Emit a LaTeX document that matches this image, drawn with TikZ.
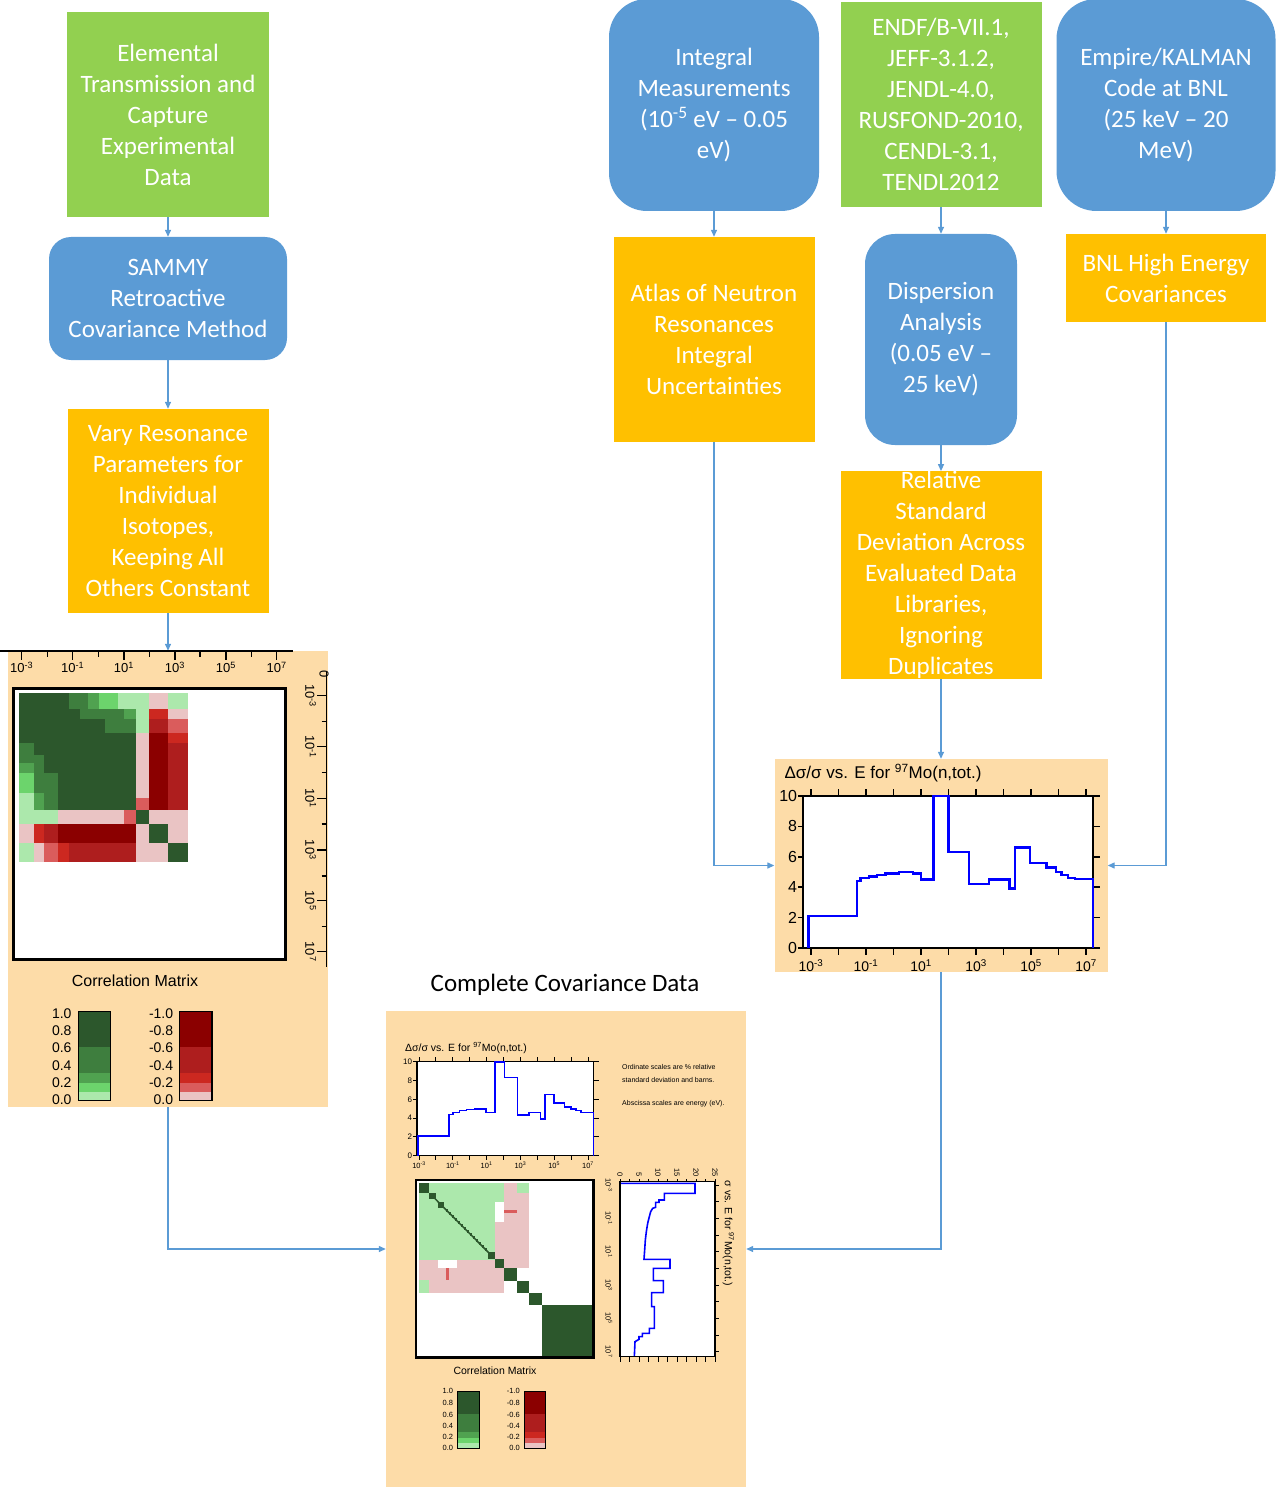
\documentclass[tikz,border=0pt]{standalone}
\usepackage{fontspec}
\setmainfont{Carlito}
\newfontfamily\plotfont{Liberation Sans}
\usetikzlibrary{arrows.meta,positioning,calc}
\definecolor{boxgreen}{RGB}{146,208,80}
\definecolor{boxblue}{RGB}{91,155,213}
\definecolor{boxorange}{RGB}{255,192,0}
\definecolor{peach}{RGB}{253,220,168}
\definecolor{gA}{RGB}{44,87,44}
\definecolor{gB}{RGB}{62,126,62}
\definecolor{gC}{RGB}{80,162,80}
\definecolor{gD}{RGB}{108,212,108}
\definecolor{gE}{RGB}{172,232,172}
\definecolor{rA}{RGB}{139,0,0}
\definecolor{rB}{RGB}{174,30,30}
\definecolor{rC}{RGB}{204,40,32}
\definecolor{rD}{RGB}{218,92,92}
\definecolor{rE}{RGB}{234,196,196}
\definecolor{traceblue}{RGB}{0,0,255}
\newcommand{\pf}[1]{\plotfont\fontsize{#1}{#1}\selectfont}
\tikzset{
  gbox/.style={rectangle,fill=boxgreen,text=white,align=center,inner sep=0pt,font=\fontsize{25}{31}\selectfont},
  obox/.style={gbox,fill=boxorange},
  bbox/.style={gbox,fill=boxblue,rounded corners=#1},
  bbox/.default=30pt,
  panel/.style={rectangle,fill=peach,inner sep=0pt},
  link/.style={draw=boxblue,line width=1.3pt,-{Triangle[length=7pt,width=6pt]}},
  axline/.style={draw=black,line width=1.5pt},
  plotframe/.style={draw=black,line width=2.5pt},
  traceline/.style={draw=traceblue,line width=2.5pt},
  lbl/.style={inner sep=0pt,font=\pf{#1}},
  lbl/.default=13
}

\begin{document}
\begin{tikzpicture}[x=1pt,y=-1pt]
\useasboundingbox (0,0) rectangle (1275,1487);

% flow boxes
\node[gbox,minimum width=202pt,minimum height=205pt] (elem) at (168,114.5) {Elemental\\Transmission and\\Capture\\Experimental\\Data};
\node[bbox=22pt,minimum width=238pt,minimum height=123pt] (sammy) at (168,298.5) {SAMMY\\Retroactive\\Covariance Method};
\node[obox,minimum width=201pt,minimum height=204pt] (vary) at (168,511) {Vary Resonance\\Parameters for\\Individual\\Isotopes,\\Keeping All\\Others Constant};

\node[bbox=38pt,minimum width=210pt,minimum height=212pt] (integ) at (714,105) {Integral\\Measurements\\(10\textsuperscript{-5} eV -- 0.05\\eV)};
\node[obox,minimum width=201pt,minimum height=205pt] (atlas) at (714,339.5) {Atlas of Neutron\\Resonances\\Integral\\Uncertainties};

\node[gbox,minimum width=201pt,minimum height=205pt] (endf) at (941,104.5) {ENDF/B-VII.1,\\JEFF-3.1.2,\\JENDL-4.0,\\RUSFOND-2010,\\CENDL-3.1,\\TENDL2012};
\node[bbox=30pt,minimum width=152pt,minimum height=211pt] (disp) at (941,339.5) {Dispersion\\Analysis\\(0.05 eV --\\25 keV)};
\node[obox,minimum width=201pt,minimum height=204pt] (reldev) at (941,575) {Relative\\Standard\\Deviation Across\\Evaluated Data\\Libraries,\\Ignoring\\Duplicates};

\node[bbox=40pt,minimum width=219pt,minimum height=212pt] (empire) at (1166,105) {Empire/KALMAN\\Code at BNL\\(25 keV -- 20\\MeV)};
\node[obox,minimum width=200pt,minimum height=88pt] (bnl) at (1166,278) {BNL High Energy\\Covariances};

% result panels
\node[panel,minimum width=320pt,minimum height=456pt] (corrpanel) at (168,879) {};
\node[panel,minimum width=333pt,minimum height=213pt] (errpanel) at (941,865.5) {};
\node[panel,minimum width=360pt,minimum height=476pt] (fullpanel) at (566,1249) {};
\node[font=\fontsize{25}{29}\selectfont] (fulltitle) at (565,985) {Complete Covariance Data};

% connectors
\draw[link] (elem) -- (sammy);
\draw[link] (sammy) -- (vary);
\draw[link] (vary) -- (corrpanel);
\draw[link] (integ) -- (atlas);
\draw[link] (endf) -- (disp);
\draw[link] (disp) -- (reldev);
\draw[link] (reldev) -- (errpanel);
\draw[link] (empire) -- (bnl);
\draw[link] (atlas) |- (errpanel.west);
\draw[link] (bnl) |- (errpanel.east);
\draw[link] (corrpanel) |- (fullpanel.west);
\draw[link] (errpanel) |- (fullpanel.east);

% correlation matrix (left panel)
\begin{scope}[shift={(0,650)},scale=1/3]
\fill[white] (40,115) rectangle (857,928);
\foreach \xa/\ya/\xb/\yb/\c in {
  58/130/208/178/gA, 208/130/265/178/gB, 265/130/297/178/gC, 297/130/355/178/gD, 355/130/448/178/gE, 448/130/505/178/rE, 505/130/563/178/gE,
  58/178/240/208/gA, 240/178/372/208/gB, 372/178/408/208/gC, 408/178/448/208/gE, 448/178/505/208/rC, 505/178/563/208/rE,
  58/208/315/250/gA, 315/208/408/250/gB, 408/208/448/250/gE, 448/208/505/250/rB, 505/208/563/250/rD,
  58/250/408/280/gA, 408/250/448/280/rE, 448/250/505/280/rA, 505/250/563/280/rC,
  175/280/408/480/gA, 58/280/102/340/gB, 58/340/102/368/gC, 58/368/102/430/gD, 58/430/102/480/gE,
  102/280/133/315/gA, 102/315/133/430/gB, 102/430/133/480/gC, 133/280/175/368/gA, 133/368/175/480/gB,
  408/280/448/445/rE, 408/445/448/480/rD, 448/280/505/480/rA, 505/280/563/480/rB,
  58/480/175/522/gE, 175/480/372/522/rE, 372/480/408/522/rD, 408/480/448/522/gA, 448/480/563/522/rE,
  58/522/102/578/rE, 102/522/133/578/rC, 133/522/175/578/rB, 175/522/408/578/rA, 408/522/448/578/rE, 448/522/505/578/gA, 505/522/563/578/rE,
  58/578/102/635/gE, 102/578/133/635/rE, 133/578/175/635/rD, 175/578/208/635/rC, 208/578/408/635/rB, 408/578/505/635/rE, 505/578/563/635/gA}
  \fill[\c] (\xa,\ya) rectangle (\xb,\yb);
\draw[line width=3pt] (40,115) rectangle (857,928);
% axes
\draw[axline] (0,3) -- (880,3);
\foreach \t in {65,218,372,525,678,830} \draw[axline] (\t,3) -- (\t,30);
\foreach \t in {142,295,448,600,755} \draw[axline] (\t,3) -- (\t,20);
\foreach \t/\e in {65/-3,218/-1,372/1,525/3,678/5,830/7}
  \node[lbl=13] (ct\e) at (\t,52) {10\textsuperscript{\e}};
\draw[axline] (980,65) -- (980,950);
\foreach \t in {137,290,445,600,752,905} \draw[axline] (952,\t) -- (980,\t);
\foreach \t in {215,368,522,678,830} \draw[axline] (965,\t) -- (980,\t);
\foreach \t/\e in {137/-3,290/-1,445/1,600/3,752/5,905/7}
  \node[lbl=13,rotate=-90] (cr\e) at (932,\t) {10\textsuperscript{\e}};
\node[lbl=13,rotate=-90] (crzero) at (972,72) {0};
\node[lbl=16] (corrname) at (405,993) {Correlation Matrix};
% colour legend
\foreach \ya/\yb/\c/\d in {1085/1192/gA/rA, 1192/1270/gB/rB, 1270/1298/gC/rC, 1298/1325/gD/rD, 1325/1352/gE/rE}
  {\fill[\c] (235,\ya) rectangle (332,\yb); \fill[\d] (538,\ya) rectangle (636,\yb);}
\draw[line width=1.2pt] (235,1085) rectangle (332,1352);
\draw[line width=1.2pt] (538,1085) rectangle (636,1352);
\foreach \y/\p/\n [count=\k] in {1090/1.0/-1.0, 1142/0.8/-0.8, 1194/0.6/-0.6, 1246/0.4/-0.4, 1298/0.2/-0.2, 1350/0.0/0.0}
  {\node[lbl=14,anchor=east] (cgl\k) at (215,\y) {\p}; \node[lbl=14,anchor=east] (crl\k) at (520,\y) {\n};}
\end{scope}

% relative standard deviation plot (right panel)
\node[lbl=17] (errtitle) at (883,773) {Δσ/σ vs. E for \textsuperscript{97}Mo(n,tot.)};
\begin{scope}[shift={(893.5,948)},x=27.5pt,y=15.2pt]
\fill[white] (-3.29,0) rectangle (7.25,10);
\draw[plotframe] (-3.29,0) rectangle (7.25,10);
\foreach \e in {-3,...,7} {\draw[axline] (\e,10) -- ++(0,0.45); \draw[axline] (\e,0) -- ++(0,-0.45);}
\foreach \v in {0,2,...,10} {
  \draw[axline] (-3.29,\v) -- ++(-0.2,0);
  \draw[axline] (7.25,\v) -- ++(0.25,0);
  \node[lbl=16,anchor=east] (ey\v) at (-3.5,\v) {\v};}
\foreach \e in {-3,-1,...,7} \node[lbl=14] (ex\e) at (\e,-1.15) {10\textsuperscript{\e}};
\draw[traceline] plot[const plot] coordinates {(-3.1,0) (-3.1,2.1) (-1.33,4.4) (-1.2,4.6) (-0.9,4.7) (-0.6,4.8) (-0.3,4.9) (0.2,5.0) (0.7,4.9) (1.0,4.5) (1.45,10) (2.0,6.3) (2.75,4.2) (3.48,4.5) (4.22,3.9) (4.42,6.6) (4.97,5.6) (5.57,5.3) (5.9,5.0) (6.1,4.8) (6.35,4.6) (6.6,4.55) (7.25,0)};
\end{scope}

% complete covariance data (bottom panel)
\node[lbl=10.5] (minititle) at (466,1048) {Δσ/σ vs. E for \textsuperscript{97}Mo(n,tot.)};
\begin{scope}[shift={(469.7,1155.7)},x=16.9pt,y=9.4pt]
\fill[white] (-3.12,0) rectangle (7.33,10);
\draw[line width=1.5pt] (-3.12,0) rectangle (7.33,10);
\foreach \e in {-3,...,7} {\draw[line width=1pt] (\e,10) -- ++(0,0.5); \draw[line width=1pt] (\e,0) -- ++(0,-0.5);}
\foreach \v in {0,2,...,10} {
  \draw[line width=1pt] (-3.12,\v) -- ++(-0.25,0);
  \draw[line width=1pt] (7.33,\v) -- ++(0.3,0);
  \node[lbl=8,anchor=east] (my\v) at (-3.4,\v) {\v};}
\foreach \e in {-3,-1,...,7} \node[lbl=7.5] (mx\e) at (\e,-1.0) {10\textsuperscript{\e}};
\draw[traceblue,line width=1.6pt] plot[const plot] coordinates {(-3.05,0) (-3.05,2.1) (-1.22,4.4) (-1.0,4.6) (-0.6,4.8) (-0.2,4.9) (0.3,5.0) (0.95,4.6) (1.5,10) (2.05,8.3) (2.82,4.3) (3.5,4.6) (4.2,3.9) (4.47,6.5) (5.0,5.6) (5.6,5.2) (6.0,5.0) (6.3,4.8) (6.6,4.6) (7.0,4.6) (7.33,0)};
\end{scope}
\node[lbl=7,anchor=west] (note1) at (622,1067) {Ordinate scales are \% relative};
\node[lbl=7,anchor=west] (note2) at (622,1080) {standard deviation and barns.};
\node[lbl=7,anchor=west] (note3) at (622,1104) {Abscissa scales are energy (eV).};

\begin{scope}[shift={(385,1170)},scale=1/3]
\fill[white] (93,30) rectangle (625,562);
\foreach \xa/\ya/\xb/\yb/\c in {
  103/40/358/95/gE, 103/95/330/270/gE, 358/40/395/95/rE, 395/40/432/70/gE, 395/70/432/95/rE,
  330/95/432/295/rE, 103/270/358/368/rE, 103/330/133/368/gE, 330/95/358/155/white, 158/270/217/295/white,
  358/120/396/128/rD, 183/295/191/330/rD,
  103/40/133/70/gA, 133/70/153/88/gA, 158/95/178/113/gA, 308/245/330/268/gA, 330/268/358/295/gA,
  358/295/395/332/gA, 395/332/432/368/gA, 432/368/470/405/gA, 470/405/625/562/gA}
  \fill[\c] (\xa,\ya) rectangle (\xb,\yb);
\draw[gA,line width=1.5pt] (150,86) -- (310,247);
\foreach \i in {0,...,13} \fill[gA] ({183+9*\i},{118+9*\i}) rectangle ++(7,7);
\draw[line width=2.5pt] (93,30) rectangle (625,562);
\node[lbl=10.5] (mininame) at (330,603) {Correlation Matrix};
\foreach \ya/\yb/\c/\d in {663/733/gA/rA, 733/785/gB/rB, 785/803/gC/rC, 803/820/gD/rD, 820/835/gE/rE}
  {\fill[\c] (218,\ya) rectangle (283,\yb); \fill[\d] (418,\ya) rectangle (482,\yb);}
\draw[line width=1pt] (218,663) rectangle (283,835);
\draw[line width=1pt] (418,663) rectangle (482,835);
\foreach \y/\p/\n [count=\k] in {663/1.0/-1.0, 700/0.8/-0.8, 735/0.6/-0.6, 768/0.4/-0.4, 802/0.2/-0.2, 835/0.0/0.0}
  {\node[lbl=7.5,anchor=east] (mgl\k) at (205,\y) {\p}; \node[lbl=7.5,anchor=east] (mrl\k) at (405,\y) {\n};}
% cross section plot
\fill[white] (705,35) rectangle (990,560);
\draw[traceblue,line width=1.6pt] (705,40) -- (930,40) -- (930,70) -- (838,70) -- (838,90) -- (822,90) -- (822,97) -- (812,97) -- (812,112) -- (803,115) -- (797,125) -- (793,140) -- (788,160) -- (784,185) -- (781,210) -- (779,240) -- (777,268) -- (855,268) -- (855,295) -- (805,295) -- (805,332) -- (835,332) -- (835,368) -- (800,368) -- (800,410) -- (808,410) -- (808,475) -- (793,475) -- (793,490) -- (772,490) -- (772,500) -- (762,500) -- (762,508) -- (750,515) -- (748,560);
\draw[line width=1.5pt] (705,35) rectangle (990,560);
\foreach \y in {45,95,...,545} \draw[line width=1pt] (990,\y) -- (1003,\y);
\foreach \i in {0,...,10} {\draw[line width=1pt] ({705+28.5*\i},560) -- ++(0,16); \draw[line width=1pt] ({705+28.5*\i},35) -- ++(0,-8);}
\foreach \x/\v in {705/0,762/5,819/10,876/15,933/20,990/25}
  \node[lbl=7.5,rotate=-90,anchor=east] (st\v) at (\x,22) {\v};
\foreach \y/\e in {45/-3,145/-1,245/1,345/3,445/5,545/7}
  \node[lbl=7.5,rotate=-90] (sl\e) at (672,\y) {10\textsuperscript{\e}};
\node[lbl=10.5,rotate=-90] (signame) at (1030,190) {σ vs. E for \textsuperscript{97}Mo(n,tot.)};
\end{scope}
\end{tikzpicture}
\end{document}
